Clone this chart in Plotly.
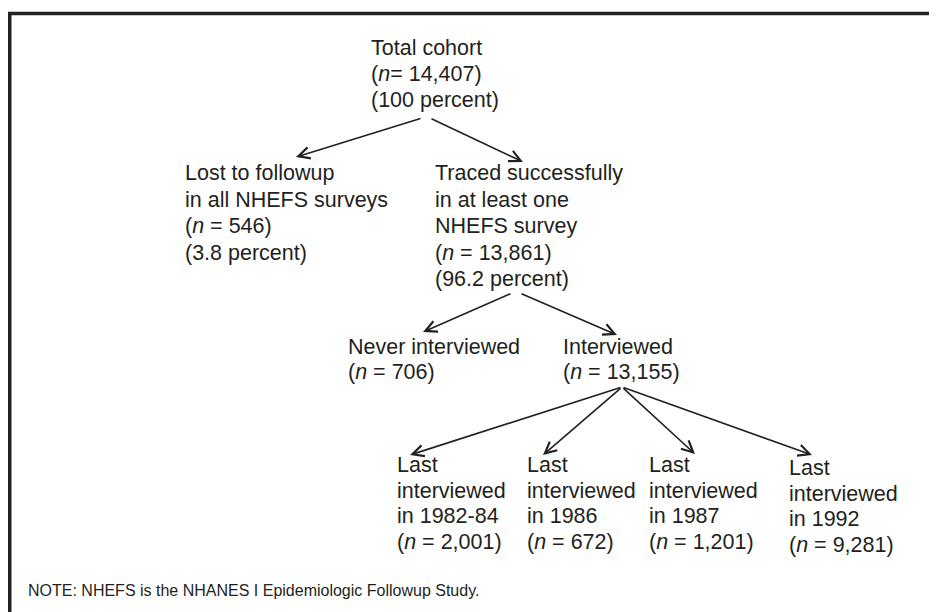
import plotly.graph_objects as go

# ---------------- data ----------------
total_n = 14407
total_pct = 100
lost_n = 546
lost_pct = 3.8
traced_n = 13861
traced_pct = 96.2
never_n = 706
interviewed_n = 13155
last_years = ["1982-84", "1986", "1987", "1992"]
last_counts = [2001, 672, 1201, 9281]
note_text = "NOTE: NHEFS is the NHANES I Epidemiologic Followup Study."

def n_line(n, tight=False):
    return f"(<i>n</i>{'' if tight else ' '}= {n:,})"

nodes = {
    "total": ["Total cohort", n_line(total_n, tight=True), f"({total_pct} percent)"],
    "lost": ["Lost to followup", "in all NHEFS surveys", n_line(lost_n), f"({lost_pct} percent)"],
    "traced": ["Traced successfully", "in at least one", "NHEFS survey", n_line(traced_n), f"({traced_pct} percent)"],
    "never": ["Never interviewed", n_line(never_n)],
    "inter": ["Interviewed", n_line(interviewed_n)],
}
for i, (yr, c) in enumerate(zip(last_years, last_counts)):
    nodes[f"last{i}"] = ["Last", "interviewed", f"in {yr}", n_line(c)]

edges = [("total", "lost"), ("total", "traced"), ("traced", "never"), ("traced", "inter"),
         ("inter", "last0"), ("inter", "last1"), ("inter", "last2"), ("inter", "last3")]

# ---------------- layout (pixel positions) ----------------
W, H = 937, 612
PAGE_OFF = 8  # default body margin of the html page
node_pos = {  # left x, first-line y, line step
    "total": (369, 48, 26),
    "lost": (183, 173, 26.5),
    "traced": (433, 173, 26.5),
    "never": (346, 347, 25),
    "inter": (561, 347, 25),
    "last0": (395, 465, 25.7),
    "last1": (525, 465, 25.7),
    "last2": (647, 465, 25.7),
    "last3": (787, 468, 25.7),
}
edge_pos = {  # tail (x, y), head (x, y)
    ("total", "lost"): ((422, 118), (296, 157)),
    ("total", "traced"): ((430, 118), (523, 162)),
    ("traced", "never"): ((512, 293), (423, 332)),
    ("traced", "inter"): ((520, 293), (617, 335)),
    ("inter", "last0"): ((622, 387), (410, 455)),
    ("inter", "last1"): ((622, 387), (543, 455)),
    ("inter", "last2"): ((622, 387), (695, 454)),
    ("inter", "last3"): ((622, 387), (812, 455)),
}
ink = "#231f20"
main_font = dict(family="Liberation Sans, Arial, sans-serif", size=21.5, color=ink)

fig = go.Figure()
fig.add_trace(go.Scatter(x=[PAGE_OFF, W], y=[PAGE_OFF, H], mode="markers", marker=dict(opacity=0),
                         hoverinfo="skip", showlegend=False))

annotations = []
for key, lines in nodes.items():
    x0, y0, step = node_pos[key]
    for j, line in enumerate(lines):
        annotations.append(dict(x=x0, y=y0 + j * step, xref="x", yref="y", text=line, showarrow=False,
                                xanchor="left", yanchor="middle", font=main_font))

for e in edges:
    (tx, ty), (hx, hy) = edge_pos[e]
    annotations.append(dict(x=hx, y=hy, ax=tx, ay=ty, xref="x", yref="y", axref="x", ayref="y",
                            text="", showarrow=True, arrowhead=5, arrowsize=1.4, arrowwidth=1.6,
                            arrowcolor=ink, standoff=0, startstandoff=0))

annotations.append(dict(x=26, y=590, xref="x", yref="y", text=note_text, showarrow=False,
                        xanchor="left", yanchor="middle",
                        font=dict(family="Liberation Sans, Arial, sans-serif", size=16, color=ink)))

shapes = [
    dict(type="line", xref="x", yref="y", x0=8, x1=W + 20, y0=13.5, y1=13.5, line=dict(color="#222", width=3.5)),
    dict(type="line", xref="x", yref="y", x0=9.75, x1=9.75, y0=12, y1=H + 20, line=dict(color="#222", width=3.5)),
]

fig.update_layout(
    width=W, height=H, margin=dict(l=0, r=0, t=0, b=0),
    paper_bgcolor="white", plot_bgcolor="white",
    xaxis=dict(range=[PAGE_OFF, W + PAGE_OFF], visible=False, fixedrange=True),
    yaxis=dict(range=[H + PAGE_OFF, PAGE_OFF], visible=False, fixedrange=True),
    annotations=annotations, shapes=shapes, showlegend=False,
)
fig.write_html("out.html")
